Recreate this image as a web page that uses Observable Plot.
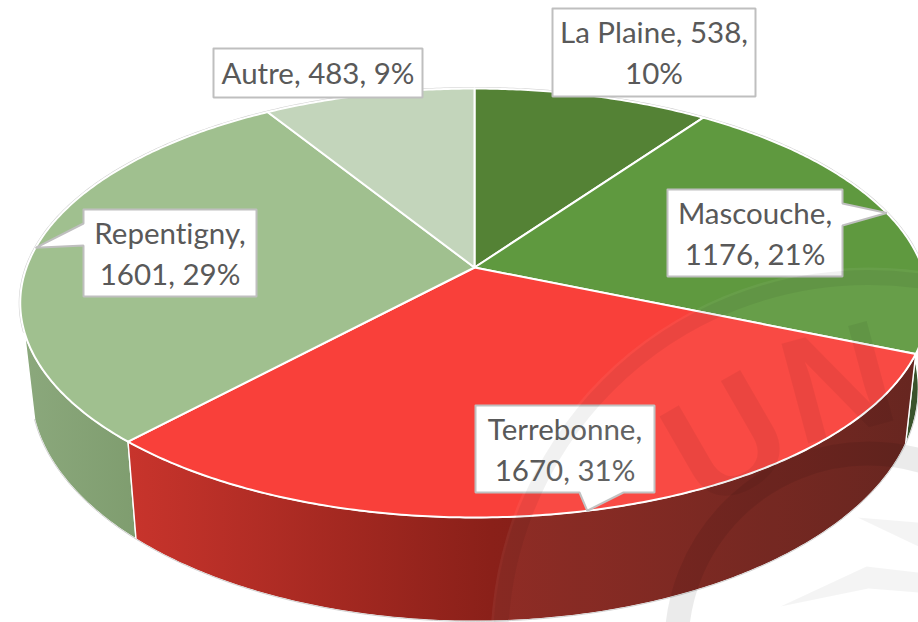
<!DOCTYPE html>
<html>
<head>
<meta charset="utf-8">
<style>html,body{margin:0;padding:0;background:#fff;overflow:hidden}svg{display:block}svg text{font-variant-ligatures:none}</style>
<script src="https://cdn.jsdelivr.net/npm/d3@7"></script>
<script src="https://cdn.jsdelivr.net/npm/@observablehq/plot@0.6"></script>
</head>
<body>
<div id="chart"></div>
<script>
// ---- data ----
const names = ["La Plaine", "Mascouche", "Terrebonne", "Repentigny", "Autre"];
const values = [538, 1176, 1670, 1601, 483];
const percents = [10, 21, 31, 29, 9];
const breakAfter = ["value", "name", "name", "name", "none"];

// ---- styles ----
const topColors = ["#548235", "#5f993f", "#f9403a", "#a0c08f", "#c3d5bb"];
const sideStops = {
  1: ["#2f4a20", "#2f4a20"],
  2: ["#c8342c", "#8a2019", "#5f1a14"],
  3: ["#8ba87c", "#7f9d6f"]
};
const W = 918, H = 622;

// ---- pie space: a tilted disc seen in perspective ----
const cx = 474, cy = 267, ax = 448, ay = 208.6, k = -0.1655;
const uX = (px) => (px - cx) / ax, uY = (py) => (py - cy) / ay;
const project = (t) => {
  const v = -Math.cos(t), d = 1 + k * v;
  return {X: Math.sin(t) / d, Y: v / d};
};
const lower = (p) => ({X: p.X * 0.977, Y: p.Y * 1.085 + 0.396});
const arc = (a, b) => {
  const n = Math.max(2, Math.ceil(Math.abs(b - a) / 0.01));
  return d3.range(n + 1).map((i) => project(a + (b - a) * i / n));
};
const slices = d3.pie().sort(null)(values);
const deg = (d) => d * Math.PI / 180;

// ---- slice polygons ----
const topPoly = (s) => {
  const rim = arc(s.startAngle, s.endAngle), c = {X: 0, Y: 0};
  return [c, ...rim, c];
};
const sidePoly = (a, b) => {
  const rim = arc(a, b);
  return [...rim, ...rim.slice().reverse().map(lower), rim[0]];
};
const line = (pts, o) => Plot.line(pts, {x: "X", y: "Y", curve: "linear", ...o});

const sideMarks = [
  line(sidePoly(slices[3].startAngle, deg(253)), {fill: "url(#side3)", stroke: "#fff", strokeWidth: 1.4}),
  line(sidePoly(deg(70), slices[1].endAngle), {fill: "url(#side1)", stroke: "#fff", strokeWidth: 1.2}),
  line(sidePoly(slices[2].startAngle, slices[2].endAngle), {fill: "url(#side2)", stroke: "#fff", strokeWidth: 1.4})
];
const rimMarks = [
  line(arc(deg(100), deg(253)).map(lower), {stroke: "#c9c9c9", strokeWidth: 0.9}),
  line(arc(deg(253), deg(470)), {stroke: "#cfcfcf", strokeWidth: 3})
];
const topMarks = slices.map((s, i) => line(topPoly(s), {
  fill: topColors[i], stroke: "#fff", strokeWidth: 2, strokeLinejoin: "round"
}));

// ---- callouts ----
const labelBoxes = [
  {x0: 552, x1: 755, y0: 8, y1: 96},
  {x0: 667, x1: 842, y0: 189, y1: 276, base: [[842, 203], [842, 225]]},
  {x0: 475, x1: 654, y0: 405, y1: 492, base: [[579, 492], [623, 492]]},
  {x0: 83, x1: 256, y0: 209, y1: 296, base: [[83, 245], [83, 223]]},
  {x0: 213, x1: 422, y0: 48, y1: 97}
];
const tip = (i) => project((slices[i].startAngle + slices[i].endAngle) / 2);
const P = (px, py) => ({X: uX(px), Y: uY(py)});
const calloutPoly = (b, i) => {
  const corners = [[b.x0, b.y0], [b.x1, b.y0], [b.x1, b.y1], [b.x0, b.y1]];
  const pts = corners.map(([x, y]) => P(x, y));
  if (!b.base) return [...pts, pts[0]];
  const [a, c] = b.base.map(([x, y]) => P(x, y));
  const t = tip(i);
  if (i === 1) return [pts[0], pts[1], a, t, c, pts[2], pts[3], pts[0]];
  if (i === 2) return [pts[0], pts[1], pts[2], c, t, a, pts[3], pts[0]];
  return [pts[0], pts[1], pts[2], pts[3], a, t, c, pts[0]];
};
const calloutMarks = labelBoxes.map((b, i) => line(calloutPoly(b, i), {
  fill: "#fff", stroke: "#bfbfbf", strokeWidth: 2, strokeLinejoin: "miter"
}));
const labelText = (i) => {
  const n = names[i], v = values[i], p = percents[i] + "%";
  if (breakAfter[i] === "value") return `${n}, ${v},\n${p}`;
  if (breakAfter[i] === "name") return `${n},\n${v}, ${p}`;
  return `${n}, ${v}, ${p}`;
};
const labels = labelBoxes.map((b, i) => ({
  text: labelText(i),
  X: uX((b.x0 + b.x1) / 2), Y: uY((b.y0 + b.y1) / 2)
}));

// ---- faint watermark lying over the picture ----
const wm = P(868, 645);
const ink = "#000";
const wedges = [
  [P(857, 517), P(918, 522), P(918, 546)],
  [P(780, 606), P(866, 566), P(918, 572), P(918, 592), P(868, 588)]
];
const watermark = [
  Plot.dot([wm], {x: "X", y: "Y", r: 378, fill: "#fff", fillOpacity: 0.056, stroke: "none"}),
  Plot.dot([wm], {x: "X", y: "Y", r: 368, fill: "none", stroke: ink, strokeOpacity: 0.055, strokeWidth: 15}),
  Plot.dot([wm], {x: "X", y: "Y", r: 192, fill: "none", stroke: ink, strokeOpacity: 0.08, strokeWidth: 24}),
  ...wedges.map((w) => line([...w, w[0]], {fill: ink, fillOpacity: 0.045, stroke: "none"})),
  Plot.text([{...P(728, 442), t: "U"}], {x: "X", y: "Y", text: "t", rotate: -30, fontSize: 155, fontWeight: 700,
    fontFamily: "Liberation Sans", fill: ink, fillOpacity: 0.055}),
  Plot.text([{...P(838, 385), t: "N"}], {x: "X", y: "Y", text: "t", rotate: -15, fontSize: 150, fontWeight: 700,
    fontFamily: "Liberation Sans", fill: ink, fillOpacity: 0.055})
];

// ---- gradients for the rim ----
const defs = () => {
  const d = d3.create("svg:defs");
  for (const [key, stops] of Object.entries(sideStops)) {
    const g = d.append("linearGradient").attr("id", "side" + key);
    stops.forEach((c, j) => g.append("stop")
      .attr("offset", stops.length === 3 ? [0, 0.46, 1][j] : j)
      .attr("stop-color", c));
  }
  return d.node();
};

const chart = Plot.plot({
  width: W, height: H,
  marginTop: 0, marginRight: 0, marginBottom: 0, marginLeft: 0,
  style: {background: "#fff", overflow: "hidden"},
  x: {domain: [uX(0), uX(W)], range: [0, W], axis: null},
  y: {domain: [uY(0), uY(H)], range: [0, H], axis: null},
  marks: [
    defs,
    ...sideMarks,
    ...rimMarks,
    ...topMarks,
    ...calloutMarks,
    Plot.text(labels, {x: "X", y: "Y", text: "text", fill: "#595959", dy: -2,
      fontFamily: "Lato", fontSize: 29.5, lineHeight: 1.39, lineAnchor: "middle", textAnchor: "middle"}),
    ...watermark
  ]
});
document.getElementById("chart").appendChild(chart);
</script>
</body>
</html>
